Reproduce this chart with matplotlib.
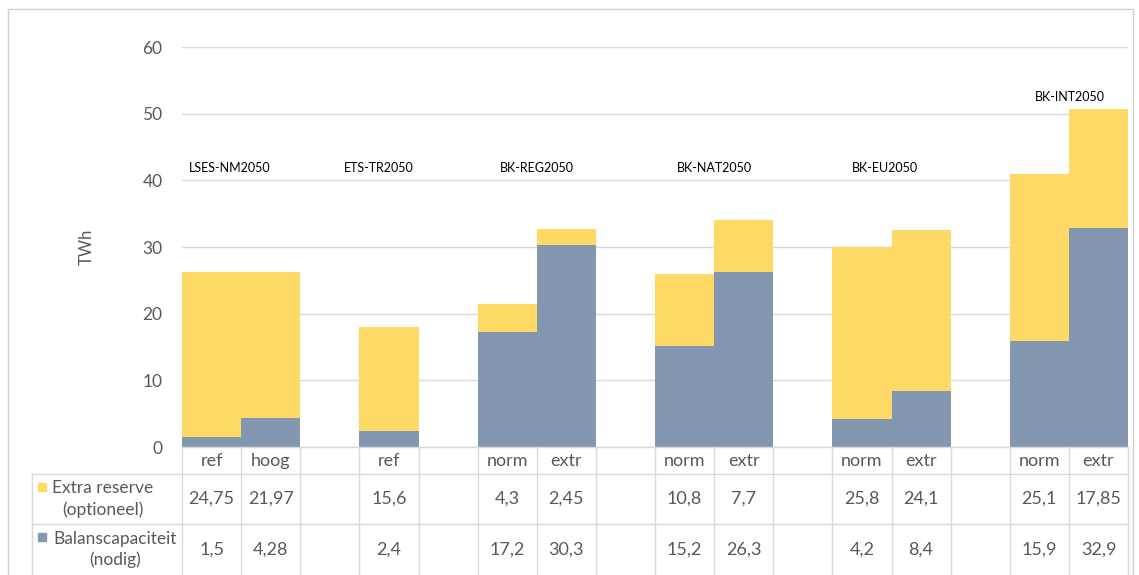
import numpy as np
import matplotlib.pyplot as plt
from matplotlib.patches import Rectangle

plt.rcParams['font.family'] = ['Lato', 'DejaVu Sans']

# categories (blank = spacer column)
cats = ['ref', 'hoog', '', 'ref', '', 'norm', 'extr', '', 'norm', 'extr', '',
        'norm', 'extr', '', 'norm', 'extr']
balans = [1.5, 4.28, np.nan, 2.4, np.nan, 17.2, 30.3, np.nan, 15.2, 26.3, np.nan,
          4.2, 8.4, np.nan, 15.9, 32.9]
extra = [24.75, 21.97, np.nan, 15.6, np.nan, 4.3, 2.45, np.nan, 10.8, 7.7, np.nan,
         25.8, 24.1, np.nan, 25.1, 17.85]
balans_txt = ['1,5', '4,28', '', '2,4', '', '17,2', '30,3', '', '15,2', '26,3', '',
              '4,2', '8,4', '', '15,9', '32,9']
extra_txt = ['24,75', '21,97', '', '15,6', '', '4,3', '2,45', '', '10,8', '7,7', '',
             '25,8', '24,1', '', '25,1', '17,85']

groups = ['LSES-NM2050', 'ETS-TR2050', 'BK-REG2050', 'BK-NAT2050', 'BK-EU2050', 'BK-INT2050']
group_x = [0.31, 2.82, 5.5, 8.5, 11.39, 14.52]
group_y = [41.8, 41.8, 41.8, 41.8, 41.8, 52.5]

yellow = '#FFD966'
blue = '#8497B0'
grey = '#595959'
line = '#D9D9D9'

W, H = 1139, 575
fig = plt.figure(figsize=(W / 100, H / 100), dpi=100)
ax = fig.add_axes([182 / W, 128 / H, 946 / W, 400 / H])

x = np.arange(len(cats))
ax.bar(x, balans, width=1.0, color=blue)
ax.bar(x, extra, bottom=balans, width=1.0, color=yellow)

ax.set_xlim(-0.5, len(cats) - 0.5)
ax.set_ylim(0, 60)
ax.set_yticks(range(0, 61, 10))
ax.set_xticks([])
ax.tick_params(axis='y', length=0, pad=14, labelsize=12.5, labelcolor=grey)
for s in ax.spines.values():
    s.set_visible(False)
ax.grid(axis='y', color=line, lw=1)
ax.set_axisbelow(True)
ax.set_ylabel('TWh', fontsize=12, color=grey, labelpad=34)

for g, gx, gy in zip(groups, group_x, group_y):
    ax.text(gx, gy, g, ha='center', va='center', fontsize=9, color='black')

# data table below the axes
tr = ax.get_xaxis_transform()
def ya(py):
    return (447 - py) / 400

for xb in np.arange(-0.5, len(cats) + 0.5, 1):
    ax.plot([xb, xb], [ya(447), ya(600)], transform=tr, color=line, lw=1, clip_on=False)
ax.plot([-0.5, len(cats) - 0.5], [0, 0], transform=tr, color=line, lw=1, clip_on=False)
for py in [474, 524]:
    fig.add_artist(plt.Line2D([32 / W, 1128 / W], [(H - py) / H] * 2, color=line, lw=1))
fig.add_artist(plt.Line2D([32 / W, 32 / W], [(H - 474) / H, 0], color=line, lw=1))

for i, c in enumerate(cats):
    ax.text(i, ya(461), c, transform=tr, ha='center', va='center', fontsize=13, color=grey)
    ax.text(i, ya(499), extra_txt[i], transform=tr, ha='center', va='center', fontsize=13, color=grey)
    ax.text(i, ya(549.5), balans_txt[i], transform=tr, ha='center', va='center', fontsize=13, color=grey)

fig.add_artist(Rectangle((38 / W, (H - 491) / H), 8 / W, 8 / H, color=yellow))
fig.add_artist(Rectangle((38 / W, (H - 541) / H), 8 / W, 8 / H, color=blue))
fig.text(103 / W, (H - 499) / H, 'Extra reserve\n(optioneel)', ha='center', va='center',
         multialignment='center', fontsize=12.5, color=grey, linespacing=1.4)
fig.text(115 / W, (H - 549.5) / H, 'Balanscapaciteit\n(nodig)', ha='center', va='center',
         multialignment='center', fontsize=12.5, color=grey, linespacing=1.4)

# outer chart border
fig.add_artist(Rectangle((8 / W, -0.1), 1125 / W, 1.1 - 9 / H, fill=False, ec='#D0D0D0', lw=1))

fig.savefig('out.png', dpi=100)
